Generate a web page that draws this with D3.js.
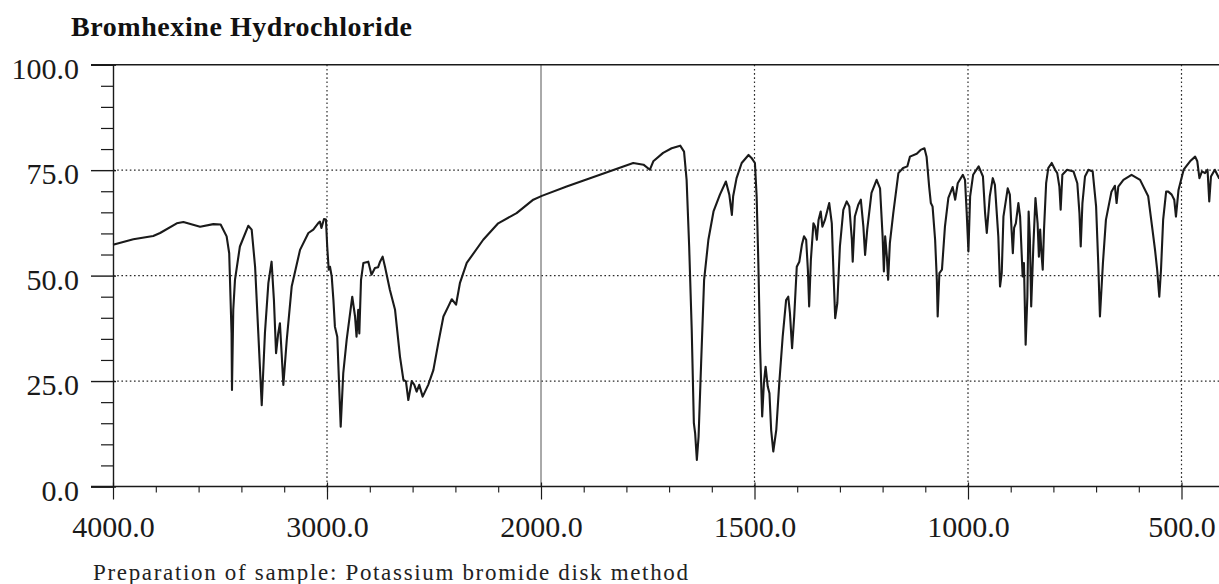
<!DOCTYPE html>
<html>
<head>
<meta charset="utf-8">
<script src="https://cdn.jsdelivr.net/npm/d3@7"></script>
<style>
  html, body { margin: 0; padding: 0; background: #fff; }
  svg { display: block; }
</style>
</head>
<body>
<svg id="chart" width="1219" height="584"></svg>
<script>
// ---------- DATA ----------
const chartTitle = "Bromhexine Hydrochloride";
const footnote = "Preparation of sample: Potassium bromide disk method";

const wavenumber = [
  4000,3905,3812,3780,3702,3671,3593,3531,3497,3469,3457,3446,3444,3438,3430,3407,3368,3352,3336,3321,
  3305,3290,3274,3259,3248,3238,3228,3220,3212,3204,3188,3165,3126,3087,3064,3040,3033,3026,3014,3005,
  2999,2992,2986,2978,2970,2963,2952,2936,2924,2908,2882,2869,2862,2854,2849,2841,2830,2807,2792,2776,
  2761,2752,2740,2729,2706,2682,2659,2643,2631,2620,2604,2592,2581,2569,2553,2527,2503,2480,2456,2433,
  2417,2397,2379,2347,2270,2200,2114,2036,1998,1940,1862,1784,1760,1745,1737,1714,1694,1674,1665,1659,
  1653,1647,1642,1639,1635,1631,1625,1618,1608,1596,1581,1567,1559,1553,1550,1542,1530,1514,1507,1499,
  1495,1491,1487,1482,1478,1474,1469,1465,1461,1456,1449,1442,1434,1426,1421,1417,1412,1407,1401,1395,
  1389,1384,1379,1375,1372,1368,1362,1358,1354,1350,1345,1341,1335,1325,1319,1315,1311,1306,1300,1292,
  1284,1278,1272,1270,1265,1257,1251,1245,1241,1236,1226,1214,1206,1200,1197,1194,1190,1187,1183,1175,
  1163,1152,1142,1136,1120,1111,1102,1097,1091,1087,1083,1077,1073,1071,1067,1061,1054,1046,1036,1030,
  1024,1012,1007,1003,999,995,988,975,965,960,956,949,942,937,929,925,921,917,907,902,
  898,895,892,888,882,878,874,872,869,865,861,858,855,852,847,842,837,834,831,828,
  825,822,817,812,804,796,791,786,783,779,768,753,744,739,736,732,726,718,708,700,
  695,691,684,677,664,656,652,648,636,617,597,578,568,562,557,552,548,543,536,531,
  523,517,513,507,495,480,468,463,458,452,445,439,435,431,422,412,400
];
const transmittance = [
  57.3,58.6,59.4,60.1,62.4,62.7,61.6,62.2,62.1,59.3,55.3,36.3,22.9,41.9,49.0,56.9,61.8,60.9,52.1,36.3,
  19.3,36.4,48.2,53.3,44.2,31.6,36.3,38.7,31.6,24.1,34.8,47.4,56.1,60.1,60.9,62.5,62.8,61.3,63.4,63.3,
  56.9,51.4,52.1,49.8,44.2,37.9,35.5,14.2,26.9,34.8,45.0,40.3,35.5,41.9,36.3,49.0,53.0,53.3,50.2,51.8,
  52.0,53.3,54.5,52.1,46.6,41.9,30.8,25.3,24.9,20.5,25.0,24.1,22.5,24.1,21.3,24.1,27.6,34.0,40.3,42.7,
  44.4,43.1,48.2,53.0,58.5,62.4,64.8,68.0,68.9,71.1,73.9,76.7,76.3,75.1,77.1,79.1,80.2,80.8,79.4,72.7,
  56.9,37.1,15.0,12.6,6.3,11.8,29.2,49.0,58.5,65.2,69.2,72.3,69.2,64.4,68.8,73.1,76.7,78.6,77.9,76.7,
  68.8,53.0,33.2,16.6,24.5,28.4,23.7,22.1,13.4,8.3,13.4,24.5,35.5,44.2,45.0,41.1,32.8,40.3,52.1,53.3,
  57.3,59.3,58.5,51.4,42.7,53.7,62.4,61.6,58.5,63.2,65.2,61.6,63.2,67.2,62.4,50.6,39.9,43.5,56.9,65.6,
  67.6,66.4,58.5,53.3,64.0,66.8,68.0,61.6,54.9,60.9,69.6,72.7,70.7,59.3,51.0,59.3,54.5,49.0,57.7,64.8,
  74.3,75.5,75.9,78.2,78.9,79.8,80.2,78.2,71.1,67.2,66.4,58.5,49.0,40.3,50.6,51.4,61.6,68.4,71.0,68.0,
  71.9,73.9,72.7,64.8,55.7,68.8,73.9,75.9,73.5,64.8,60.1,68.8,73.1,71.5,59.3,47.4,50.6,64.0,70.7,69.2,
  60.9,55.3,61.3,62.4,67.2,64.0,54.5,49.8,53.0,33.6,45.0,65.2,58.5,42.7,56.9,68.4,62.4,54.5,60.9,55.3,
  51.4,60.9,71.9,75.5,76.7,75.1,74.3,71.1,65.6,73.9,75.1,74.7,71.9,64.8,56.9,67.2,73.5,75.1,74.7,66.4,
  53.0,40.3,53.0,63.2,69.9,71.3,67.2,71.1,72.7,73.9,72.7,68.8,60.9,56.1,51.4,45.0,51.4,63.2,69.9,69.9,
  69.2,68.0,64.0,70.3,75.1,77.1,78.2,77.1,73.1,74.7,74.3,75.1,67.6,73.5,75.1,73.1,72.5
];

const xMajorTicks = [4000, 3000, 2000, 1500, 1000, 500];
const xMinorTicksHigh = d3.range(3800, 2000, -200);
const xMinorTicksLow = d3.range(1900, 400, -100).filter(v => v % 500 !== 0);
const xDottedGrid = [3000, 1500, 1000, 500];
const xSolidGrid = [2000];
const yMajorTicks = [0, 25, 50, 75, 100];
const yMinorTicks = d3.range(5, 100, 5).filter(v => v % 25 !== 0);
const yDottedGrid = [25, 50, 75];

// ---------- LAYOUT ----------
const svg = d3.select("#chart");
const W = 1219;
const left = 113, xMid = 541, pxPer1000Low = 427;
const x = d3.scaleLinear()
  .domain([4000, 2000, 400])
  .range([left, xMid, xMid + 1.6 * pxPer1000Low]);
const y = d3.scaleLinear().domain([0, 100]).range([486.5, 64.7]);
const fontFam = "'Liberation Serif', 'Times New Roman', serif";
const ink = "#1a1a1a";

// gridlines
svg.append("g").selectAll("line").data(yDottedGrid).join("line")
  .attr("x1", left).attr("x2", W)
  .attr("y1", d => y(d)).attr("y2", d => y(d))
  .attr("stroke", "#2a2a2a").attr("stroke-width", 1.2)
  .attr("stroke-dasharray", "1.6,2.6");
svg.append("g").selectAll("line").data(xDottedGrid).join("line")
  .attr("x1", d => x(d)).attr("x2", d => x(d))
  .attr("y1", y(100)).attr("y2", y(0))
  .attr("stroke", "#2a2a2a").attr("stroke-width", 1.2)
  .attr("stroke-dasharray", "1.6,2.6");
svg.append("g").selectAll("line").data(xSolidGrid).join("line")
  .attr("x1", d => x(d)).attr("x2", d => x(d))
  .attr("y1", y(100)).attr("y2", y(0))
  .attr("stroke", "#555").attr("stroke-width", 1);

// frame lines (top and bottom)
svg.append("line").attr("x1", 91).attr("x2", W).attr("y1", y(100)).attr("y2", y(100))
  .attr("stroke", ink).attr("stroke-width", 1.6);
svg.append("line").attr("x1", 91).attr("x2", W).attr("y1", y(0)).attr("y2", y(0))
  .attr("stroke", ink).attr("stroke-width", 1.6);

// y axis
const yAxis = d3.axisLeft(y).tickValues(yMajorTicks).tickSize(22).tickPadding(12)
  .tickFormat(d3.format(".1f"));
const gy = svg.append("g").attr("transform", `translate(${left},0)`).call(yAxis);
gy.select(".domain").attr("stroke", ink).attr("stroke-width", 1.4);
gy.selectAll(".tick line").attr("stroke", ink).attr("stroke-width", 1.4).attr("x2", -22).attr("x1", 3);
gy.selectAll("text").attr("font-family", fontFam).attr("font-size", 30).attr("fill", ink)
  .attr("dy", "0.46em");

const yMinor = d3.axisLeft(y).tickValues(yMinorTicks).tickSize(12).tickFormat("");
const gym = svg.append("g").attr("transform", `translate(${left},0)`).call(yMinor);
gym.select(".domain").remove();
gym.selectAll(".tick line").attr("stroke", ink).attr("stroke-width", 1.2);

// x axis
const xAxis = d3.axisBottom(x).tickValues(xMajorTicks).tickSize(13).tickPadding(16)
  .tickFormat(d3.format(".1f"));
const gx = svg.append("g").attr("transform", `translate(0,${y(0)})`).call(xAxis);
gx.select(".domain").remove();
gx.selectAll(".tick line").attr("stroke", ink).attr("stroke-width", 1.2).attr("y1", -4);
gx.selectAll("text").attr("font-family", fontFam).attr("font-size", 30).attr("fill", ink);

const xMinorAxis = d3.axisBottom(x).tickValues(xMinorTicksHigh.concat(xMinorTicksLow))
  .tickSize(6).tickFormat("");
const gxm = svg.append("g").attr("transform", `translate(0,${y(0)})`).call(xMinorAxis);
gxm.select(".domain").remove();
gxm.selectAll(".tick line").attr("stroke", ink).attr("stroke-width", 1.1);

// spectrum
const pts = wavenumber.map((w, i) => [w, transmittance[i]]);
const line = d3.line().x(d => x(d[0])).y(d => y(d[1]));
svg.append("path").datum(pts)
  .attr("d", line)
  .attr("fill", "none")
  .attr("stroke", ink)
  .attr("stroke-width", 2.1)
  .attr("stroke-linejoin", "round");

// title
svg.append("text").attr("x", 71).attr("y", 36)
  .attr("font-family", fontFam).attr("font-weight", "bold").attr("font-size", 28)
  .attr("fill", "#111")
  .attr("textLength", 341).attr("lengthAdjust", "spacing")
  .text(chartTitle);

// footnote
svg.append("text").attr("x", 93).attr("y", 580)
  .attr("font-family", fontFam).attr("font-size", 23)
  .attr("fill", "#222")
  .attr("textLength", 595).attr("lengthAdjust", "spacing")
  .text(footnote);
</script>
</body>
</html>
